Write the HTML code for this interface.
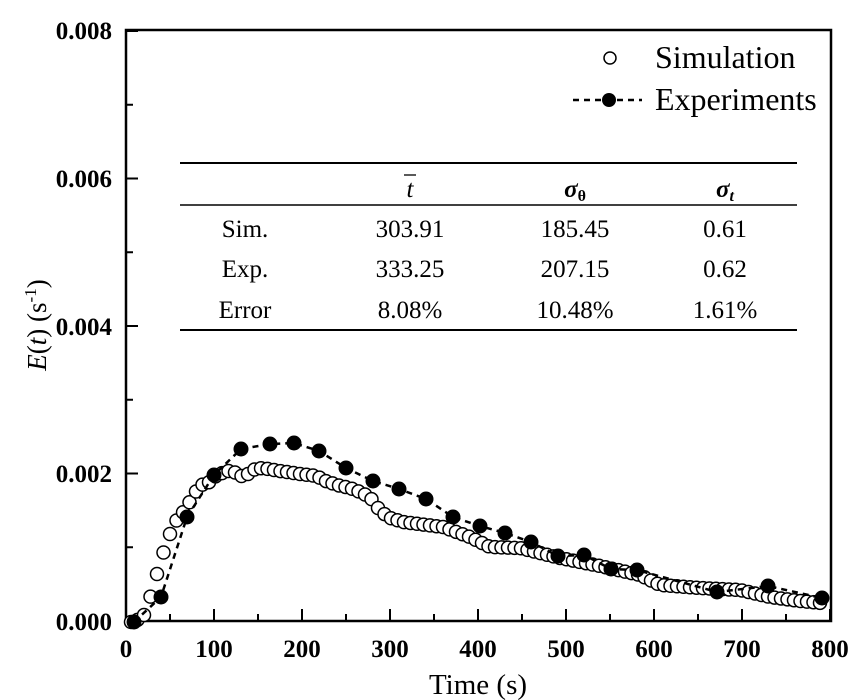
<!DOCTYPE html>
<html><head><meta charset="utf-8"><style>
html,body{margin:0;padding:0;background:#fff}
svg{display:block;font-family:"Liberation Serif",serif}
</style></head><body>
<svg id="s" width="861" height="700" viewBox="0 0 861 700" xmlns="http://www.w3.org/2000/svg">
<rect x="126" y="30" width="705" height="591" fill="none" stroke="#000" stroke-width="2.5"/>
<g id="ticks" stroke="#000" stroke-width="2"></g>
<g font-weight="bold" font-size="25" text-anchor="end">
<text x="112" y="39">0.008</text><text x="112" y="187">0.006</text><text x="112" y="335">0.004</text><text x="112" y="482">0.002</text><text x="112" y="630">0.000</text>
</g>
<g font-weight="bold" font-size="25" text-anchor="middle">
<text x="126" y="657">0</text><text x="214" y="657">100</text><text x="302" y="657">200</text><text x="390" y="657">300</text><text x="478" y="657">400</text><text x="566" y="657">500</text><text x="654" y="657">600</text><text x="742" y="657">700</text><text x="830" y="657">800</text>
</g>
<text x="478" y="694" font-size="29" text-anchor="middle">Time (s)</text>
<text transform="translate(46,325) rotate(-90)" font-size="27" text-anchor="middle"><tspan font-style="italic">E</tspan>(<tspan font-style="italic">t</tspan>) (s<tspan dy="-10" font-size="17">-1</tspan><tspan dy="10">)</tspan></text>
<circle cx="610" cy="58" r="6" fill="#fff" stroke="#000" stroke-width="1.5"/>
<text x="655" y="68" font-size="32">Simulation</text>
<line x1="573" y1="100" x2="642" y2="100" stroke="#000" stroke-width="2.5" stroke-dasharray="6,5"/>
<circle cx="609" cy="100" r="7" fill="#000"/>
<text x="655" y="110" font-size="32">Experiments</text>
<line x1="180" y1="163" x2="797" y2="163" stroke="#000" stroke-width="2"/>
<line x1="180" y1="205" x2="797" y2="205" stroke="#000" stroke-width="1.5"/>
<line x1="180" y1="330" x2="797" y2="330" stroke="#000" stroke-width="2"/>
<g font-size="25" text-anchor="middle">
<text x="410" y="197" font-style="italic">t</text>
<line x1="404" y1="175" x2="416" y2="175" stroke="#000" stroke-width="1.3"/>
<text x="575" y="197" font-style="italic" font-weight="bold">σ<tspan font-size="16" dy="4" font-style="normal">θ</tspan></text>
<text x="725" y="197" font-style="italic" font-weight="bold">σ<tspan font-size="16" dy="4">t</tspan></text>
<text x="245" y="237">Sim.</text><text x="410" y="237">303.91</text><text x="575" y="237">185.45</text><text x="725" y="237">0.61</text>
<text x="245" y="277">Exp.</text><text x="410" y="277">333.25</text><text x="575" y="277">207.15</text><text x="725" y="277">0.62</text>
<text x="245" y="318">Error</text><text x="410" y="318">8.08%</text><text x="575" y="318">10.48%</text><text x="725" y="318">1.61%</text>
</g>
<g id="sim"></g>
<polyline id="expl" fill="none" stroke="#000" stroke-width="2.5" stroke-dasharray="6,5"/>
<g id="exp"></g>
</svg>
<script>
var NS="http://www.w3.org/2000/svg";
function el(t,a,p){var e=document.createElementNS(NS,t);for(var k in a)e.setAttribute(k,a[k]);document.getElementById(p).appendChild(e);return e;}
for(var i=0;i<=16;i++){var x=126+i*44;var L=i%2?7:12;el('line',{x1:x,y1:621,x2:x,y2:621-L},'ticks');}
for(var j=0;j<=8;j++){var y=621-j*73.75;var L=j%2?7:12;el('line',{x1:126,y1:y,x2:126+L,y2:y},'ticks');}
var A=[[131,622],[143,618],[147,606],[153,590],[160,562],[167,543],[172,528],[178,518],[185,510],[192,498],[200,485],[207,484],[217,475],[225,472],[232,470],[238,475],[245,477],[252,470],[262,468],[280,471],[300,474],[317,476],[323,480],[337,485],[350,488],[360,492],[370,497],[377,507],[383,513],[390,518],[403,522],[443,527],[470,537],[490,547],[520,548],[560,558],[600,566],[640,575],[660,585],[700,588],[740,590],[770,597],[800,601],[822,603]];
function interp(x){for(var i=0;i<A.length-1;i++){if(x<=A[i+1][0]){var f=(x-A[i][0])/(A[i+1][0]-A[i][0]);return A[i][1]+f*(A[i+1][1]-A[i][1]);}}return A[A.length-1][1];}
var pts=[];for(var x=131;x<=822;x+=6.5){pts.push([x,interp(x)]);}
pts.forEach(function(p){el('circle',{cx:p[0],cy:p[1],r:6.5,fill:'#fff',stroke:'#000','stroke-width':1.5},'sim');});
var E=[[134,622],[161,597],[187,517],[214,475],[241,449],[270,444],[294,443],[319,451],[346,468],[373,481],[399,489],[426,499],[453,517],[480,526],[505,533],[531,542],[558,556],[584,555],[611,569],[637,570],[717,592],[768,586],[822,598]];
document.getElementById('expl').setAttribute('points',E.map(function(p){return p.join(',')}).join(' '));
E.forEach(function(p){el('circle',{cx:p[0],cy:p[1],r:7.5,fill:'#000'},'exp');});
</script>
</body></html>
